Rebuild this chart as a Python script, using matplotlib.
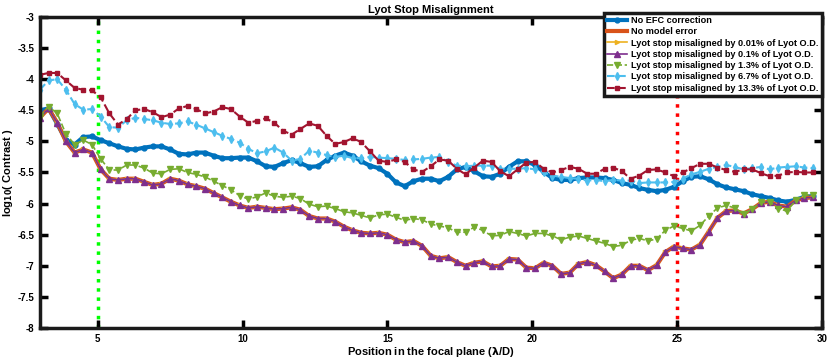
import numpy as np
import matplotlib
matplotlib.use("Agg")
import matplotlib.pyplot as plt

plt.rcParams['font.family'] = ['Liberation Sans', 'DejaVu Sans']
plt.rcParams['font.weight'] = 'bold'
plt.rcParams['axes.labelweight'] = 'bold'
plt.rcParams['mathtext.default'] = 'bf'

# position in the focal plane (lambda/D), 90 samples
x = np.linspace(3.0, 29.7, 90)

no_efc = [-4.50, -4.47, -4.72, -4.98, -5.05, -4.93, -4.92, -4.98, -5.03, -5.08,
          -5.12, -5.13, -5.10, -5.08, -5.08, -5.13, -5.20, -5.21, -5.18, -5.18,
          -5.23, -5.27, -5.27, -5.26, -5.26, -5.32, -5.40, -5.41, -5.35, -5.30,
          -5.35, -5.41, -5.40, -5.30, -5.23, -5.18, -5.23, -5.32, -5.39, -5.43,
          -5.52, -5.66, -5.72, -5.64, -5.60, -5.60, -5.64, -5.57, -5.45, -5.41,
          -5.48, -5.56, -5.57, -5.52, -5.41, -5.32, -5.32, -5.38, -5.49, -5.59,
          -5.62, -5.62, -5.59, -5.58, -5.58, -5.59, -5.62, -5.67, -5.70, -5.75,
          -5.78, -5.80, -5.78, -5.73, -5.64, -5.57, -5.56, -5.61, -5.69, -5.74,
          -5.77, -5.80, -5.85, -5.88, -5.91, -5.95, -5.97, -5.94, -5.89, -5.88]

# no model error, 0.01% and 0.1% lie on top of each other
no_model_err = [-4.62, -4.47, -4.70, -5.00, -5.18, -5.13, -5.18, -5.45, -5.60, -5.62,
                -5.60, -5.60, -5.65, -5.70, -5.68, -5.60, -5.63, -5.69, -5.72, -5.76,
                -5.83, -5.90, -5.97, -6.03, -6.07, -6.05, -6.07, -6.09, -6.08, -6.06,
                -6.10, -6.20, -6.24, -6.24, -6.29, -6.37, -6.43, -6.47, -6.48, -6.47,
                -6.50, -6.58, -6.62, -6.60, -6.68, -6.84, -6.88, -6.86, -6.94, -7.00,
                -6.95, -6.93, -7.01, -7.00, -6.89, -6.90, -7.03, -7.04, -6.95, -7.00,
                -7.13, -7.11, -6.97, -6.94, -6.99, -7.09, -7.20, -7.14, -7.00, -7.00,
                -7.07, -6.99, -6.78, -6.69, -6.72, -6.74, -6.66, -6.45, -6.23, -6.12,
                -6.11, -6.16, -6.09, -5.99, -5.97, -6.03, -6.05, -5.95, -5.91, -5.90]
mis_001 = list(no_model_err)
mis_01 = list(no_model_err)

mis_13 = [-4.60, -4.44, -4.55, -4.88, -5.05, -4.98, -5.05, -5.28, -5.46, -5.46,
          -5.38, -5.38, -5.43, -5.51, -5.52, -5.45, -5.44, -5.50, -5.53, -5.57,
          -5.64, -5.71, -5.78, -5.87, -5.93, -5.89, -5.83, -5.88, -5.90, -5.88,
          -5.92, -6.01, -6.05, -6.04, -6.08, -6.13, -6.15, -6.19, -6.23, -6.18,
          -6.17, -6.22, -6.27, -6.24, -6.26, -6.33, -6.36, -6.39, -6.46, -6.46,
          -6.38, -6.43, -6.52, -6.51, -6.45, -6.48, -6.52, -6.48, -6.48, -6.52,
          -6.58, -6.54, -6.52, -6.56, -6.60, -6.64, -6.69, -6.67, -6.59, -6.56,
          -6.60, -6.57, -6.43, -6.36, -6.40, -6.44, -6.35, -6.20, -6.07, -6.03,
          -6.07, -6.17, -6.09, -5.98, -5.97, -6.08, -6.12, -5.95, -5.86, -5.86]

mis_67 = [-4.17, -4.02, -4.00, -4.17, -4.40, -4.49, -4.48, -4.60, -4.77, -4.78,
          -4.66, -4.62, -4.64, -4.66, -4.70, -4.72, -4.71, -4.68, -4.73, -4.79,
          -4.85, -4.91, -4.96, -5.02, -5.12, -5.19, -5.16, -5.10, -5.18, -5.31,
          -5.28, -5.15, -5.18, -5.22, -5.25, -5.23, -5.27, -5.27, -5.25, -5.26,
          -5.27, -5.28, -5.30, -5.29, -5.28, -5.26, -5.25, -5.33, -5.39, -5.40,
          -5.39, -5.39, -5.39, -5.44, -5.44, -5.44, -5.43, -5.45, -5.50, -5.55,
          -5.57, -5.59, -5.60, -5.63, -5.62, -5.64, -5.62, -5.63, -5.63, -5.67,
          -5.66, -5.66, -5.66, -5.65, -5.60, -5.53, -5.49, -5.44, -5.41, -5.38,
          -5.41, -5.45, -5.43, -5.41, -5.45, -5.42, -5.41, -5.40, -5.42, -5.43]

mis_133 = [-3.93, -3.90, -3.90, -4.02, -4.14, -4.17, -4.18, -4.29, -4.55, -4.73,
           -4.64, -4.50, -4.48, -4.53, -4.61, -4.57, -4.47, -4.43, -4.48, -4.55,
           -4.52, -4.45, -4.48, -4.60, -4.70, -4.67, -4.63, -4.70, -4.83, -4.89,
           -4.80, -4.71, -4.75, -4.91, -5.04, -5.01, -4.95, -5.01, -5.16, -5.31,
           -5.33, -5.29, -5.33, -5.45, -5.49, -5.40, -5.29, -5.31, -5.44, -5.53,
           -5.42, -5.31, -5.33, -5.48, -5.56, -5.45, -5.34, -5.33, -5.44, -5.50,
           -5.46, -5.41, -5.44, -5.52, -5.52, -5.44, -5.42, -5.48, -5.60, -5.55,
           -5.46, -5.45, -5.50, -5.56, -5.50, -5.43, -5.36, -5.36, -5.42, -5.46,
           -5.49, -5.45, -5.45, -5.51, -5.56, -5.55, -5.50, -5.49, -5.50, -5.50]

labels = ['No EFC correction', 'No model error',
          'Lyot stop misaligned by 0.01% of Lyot O.D.',
          'Lyot stop misaligned by 0.1% of Lyot O.D.',
          'Lyot stop misaligned by 1.3% of Lyot O.D.',
          'Lyot stop misaligned by 6.7% of Lyot O.D.',
          'Lyot stop misaligned by 13.3% of Lyot O.D.']

fig = plt.figure(figsize=(8.3, 3.62), dpi=100)
ax = fig.add_axes([0.048, 0.094, 0.942, 0.859])

ax.plot(x, no_efc, '-o', color='#0072BD', lw=3, ms=3.5, label=labels[0])
ax.plot(x, no_model_err, '-', color='#D95319', lw=3, label=labels[1])
ax.plot(x, mis_001, '-', color='#EDB120', lw=1.2, marker='>', ms=3, label=labels[2])
ax.plot(x, mis_01, '-^', color='#7E2F8E', lw=1.2, ms=4.5, label=labels[3])
ax.plot(x, mis_13, '--v', color='#77AC30', lw=1.2, ms=4.5, label=labels[4])
ax.plot(x, mis_67, '--d', color='#4DBEEE', lw=1.5, ms=4, label=labels[5])
ax.plot(x, mis_133, '--s', color='#A2142F', lw=1.5, ms=3.5, label=labels[6])

ax.axvline(5, color='#00FF00', ls=':', lw=2.5, zorder=1)
ax.axvline(25, color='#FF0000', ls=':', lw=2.5, zorder=1)

ax.set_xlim(3, 30)
ax.set_ylim(-8, -3)
ax.set_xticks([5, 10, 15, 20, 25, 30])
ax.set_yticks(np.arange(-8, -2.9, 0.5))
ax.set_yticklabels(['-8', '-7.5', '-7', '-6.5', '-6', '-5.5', '-5', '-4.5', '-4', '-3.5', '-3'])
ax.tick_params(direction='in', top=True, right=True, length=6, width=2.5,
               labelsize=7, pad=4)
for s in ax.spines.values():
    s.set_linewidth(2.5)
    s.set_color('#1a1a1a')

ax.set_title('Lyot Stop Misalignment', fontsize=8, fontweight='bold', pad=3)
ax.set_xlabel('Position in the focal plane ($\\lambda$/D)', fontsize=8,
              fontweight='bold', labelpad=1)
ax.set_ylabel('log$_{10}$( Contrast )', fontsize=8, fontweight='bold', labelpad=2)

leg = ax.legend(loc='upper right', bbox_to_anchor=(1.0, 1.012), borderaxespad=0,
                fontsize=6.6, numpoints=1, handlelength=2.2, labelspacing=0.25,
                borderpad=0.3, handletextpad=0.5, fancybox=False, framealpha=1)
leg.get_frame().set_edgecolor('#1a1a1a')
leg.get_frame().set_linewidth(2.5)

fig.savefig('out.png', dpi=100)
